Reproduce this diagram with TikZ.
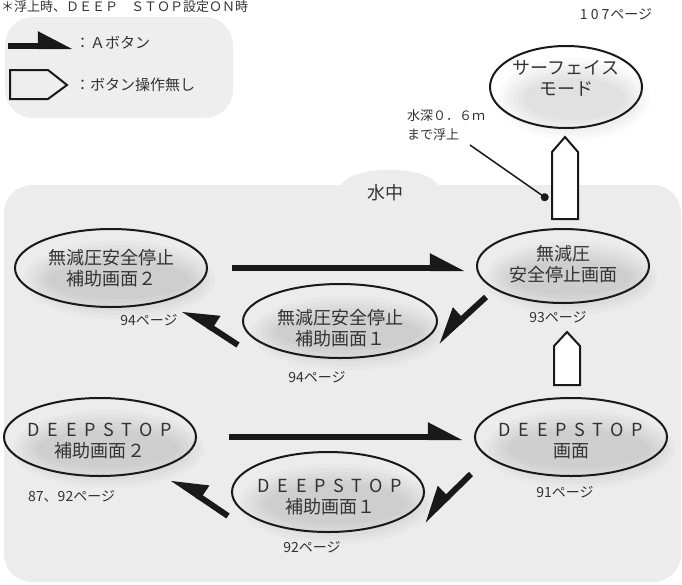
\documentclass[tikz,border=0pt]{standalone}
\usepackage{fontspec}
\setmainfont{Noto Sans CJK JP}
\newfontfamily\dsfont[LetterSpace=43]{Noto Sans CJK JP}
\usepackage{tikz}
\usetikzlibrary{positioning,arrows.meta,calc,shapes.geometric}
\pgfdeclarelayer{background}
\pgfsetlayers{background,main}
\definecolor{waterbg}{HTML}{ECECEC}
\definecolor{legendbg}{HTML}{EEEEEE}
\definecolor{inkgray}{HTML}{333333}

\begin{document}
\begin{tikzpicture}[x=1pt, y=-1pt,
    screen/.style n args={2}{ellipse, draw=black!90, line width=2pt, minimum width=#1pt, minimum height=#2pt, inner sep=0pt},
    scrtext/.style={font=\fontsize{18}{21}\selectfont, align=center, text=inkgray, inner sep=0pt},
    pagelbl/.style={font=\fontsize{14}{16}\selectfont, text=inkgray, inner sep=0pt},
    legtext/.style={font=\fontsize{15}{18}\selectfont, text=inkgray, inner sep=0pt, anchor=west},
    abutton/.style={line width=6pt, draw=black!90, -{Triangle[harpoon, length=29pt, width=28pt]}},
    abuttonr/.style={abutton, -{Triangle[harpoon, swap, length=29pt, width=28pt]}},
    hollow/.style={draw=black!90, line width=2pt, fill=white, line join=miter},
    leader/.style={draw=black!90, line width=1.5pt, -{Circle[length=8pt]}},
]
\useasboundingbox (0,0) rectangle (682,584);

% --- NOTE & LEGEND ---
\node[font=\fontsize{13}{15}\selectfont, text=inkgray, anchor=base west, inner sep=0pt] (note) at (1,11.5) {＊浮上時、ＤＥＥＰ　ＳＴＯＰ設定ＯＮ時};

\draw[abutton] (8,46) -- (73,46);
\node[legtext] (legA) at (75,43) {：Ａボタン};
\draw[hollow, fill=none] (10,70) -- (48,70) -- (67,85) -- (48,99) -- (10,99) -- cycle;
\node[legtext] (legN) at (75,85) {：ボタン操作無し};

% --- SCREENS ---
\node[screen={152}{82}] (surf) at (566,87) {};
\node[scrtext] (surft) at (566,78) {サーフェイス\\モード};
\node[pagelbl] (surfp) at (616,14) {1\kern3pt0\kern3pt7\kern1pt ページ};

\node[font=\fontsize{18}{21}\selectfont, text=inkgray] (water) at (385,193) {水中};

\node[screen={172}{74}] (dsr) at (563,266) {};
\node[scrtext] (dsrt) at (563,264.5) {無減圧\\安全停止画面};
\node[pagelbl] (dsrp) at (558,317) {93ページ};

\node[screen={192}{78}] (sub2) at (111,268) {};
\node[scrtext] (sub2t) at (111,268) {無減圧安全停止\\補助画面２};
\node[pagelbl] (sub2p) at (149,320) {94ページ};

\node[screen={194}{74}] (sub1) at (340,321) {};
\node[scrtext] (sub1t) at (340,328) {無減圧安全停止\\補助画面１};
\node[pagelbl] (sub1p) at (317,377) {94ページ};

\node[screen={192}{78}] (ds) at (571,437) {};
\node[scrtext] (dst) at (571,441) {{\dsfont DEEPSTOP}\\画面};
\node[pagelbl] (dsp) at (565,492) {91ページ};

\node[screen={192}{78}] (ds2) at (100,437) {};
\node[scrtext] (ds2t) at (100,441) {{\dsfont DEEPSTOP}\\補助画面２};
\node[pagelbl, anchor=west] (ds2p) at (28,496) {87、92ページ};

\node[screen={192}{80}] (ds1) at (328,492) {};
\node[scrtext] (ds1t) at (330,497) {{\dsfont DEEPSTOP}\\補助画面１};
\node[pagelbl] (ds1p) at (312,547) {92ページ};

% --- A BUTTON ---
\draw[abutton, shorten <=24pt, shorten >=11pt] (sub2.east) -- (sub2.east -| dsr.west);
\draw[abuttonr] ($(dsr.center)+(-77,31)$) -- ($(sub1.center)+(97,21)$);
\draw[abuttonr] ($(sub1.center)+(-102,24)$) -- ($(sub2.center)+(72,41)$);

\draw[abutton, shorten <=32pt, shorten >=11pt] (ds2.east) -- (ds2.east -| ds.west);
\draw[abuttonr] ($(ds.center)+(-100,37)$) -- ($(ds1.center)+(95,29)$);
\draw[abuttonr] ($(ds1.center)+(-100,24)$) -- ($(ds2.center)+(72,41)$);

% --- NO BUTTON ---
\draw[hollow] ($(dsr.north)+(-11,-9)$) -- ++(0,-67) -- ++(13,-15) -- ++(13,15) -- ++(0,67) -- cycle;
\draw[hollow] ($(ds.north)+(-17,-12)$) -- ++(0,-39) -- ++(13,-14) -- ++(13,14) -- ++(0,39) -- cycle;

\node[font=\fontsize{13}{19}\selectfont, text=inkgray, align=left, anchor=north west, inner sep=0pt] (depth) at (407,109) {水深０．６ｍ\\まで浮上};
\draw[leader] (470,145) -- (548,199.5);

% --- BACKGROUND ---
\begin{pgfonlayer}{background}
\fill[legendbg, rounded corners=28pt] (5,17) rectangle (233,118);
\fill[waterbg, rounded corners=28pt] (4,185) rectangle (681,582);
\fill[waterbg] (340,187) .. controls (348,164) and (430,164) .. (439,187) -- cycle;
\foreach \nd/\rx/\ry in {surf/76/41, dsr/86/37, sub2/96/39, sub1/97/37, ds/96/39, ds2/96/39, ds1/96/40} {
    \foreach \k in {0,...,5} {
        \fill[black, opacity=0.018] ($(\nd.center)+(8,12)$) ellipse [x radius={(\rx-5*\k)*1pt}, y radius={(\ry-4*\k)*1pt}];
    }
}
\end{pgfonlayer}

\end{tikzpicture}
\end{document}
